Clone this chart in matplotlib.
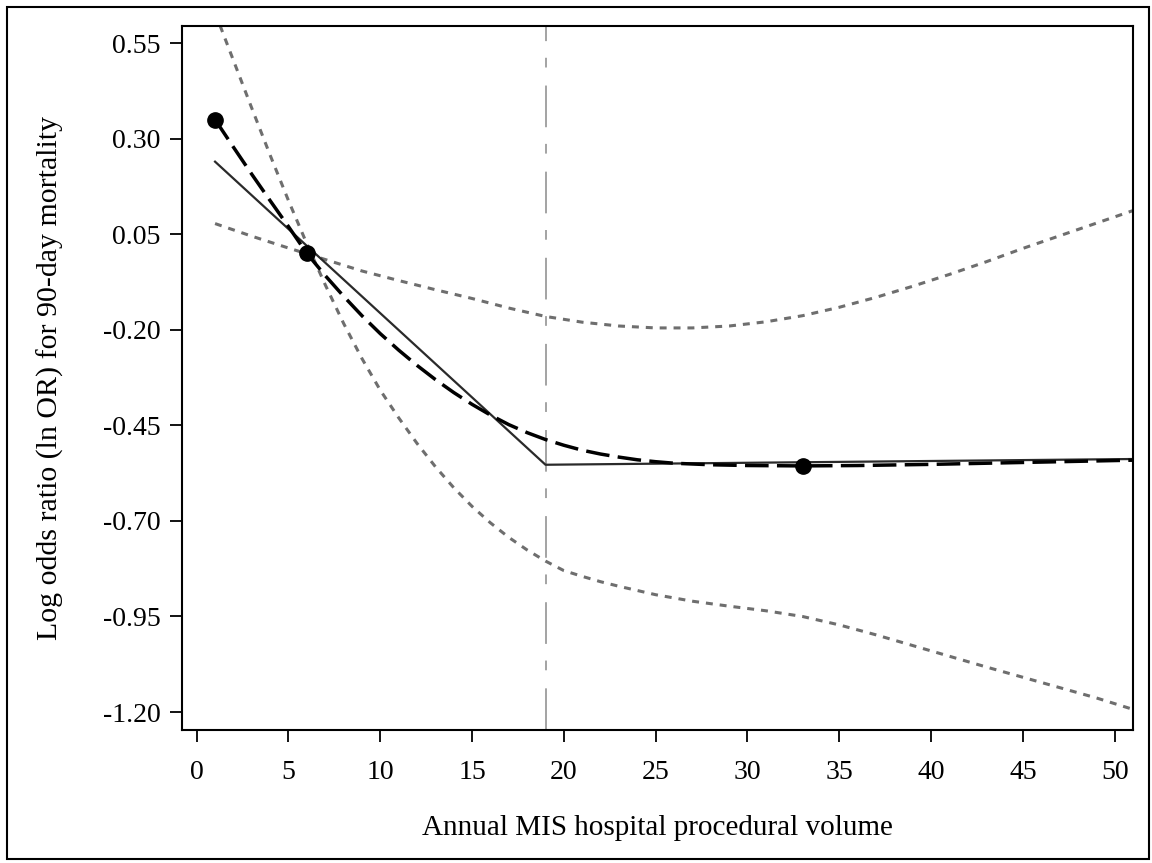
import matplotlib
matplotlib.use("Agg")
import matplotlib.pyplot as plt
from matplotlib.patches import Rectangle

plt.rcParams['font.family'] = ['Liberation Serif', 'DejaVu Serif']
plt.rcParams['lines.scale_dashes'] = False

# knot of the linear spline (vertical reference line)
knot = 19

# piecewise linear spline
lin_x = [1, 19, 51]
lin_y = [0.24, -0.553, -0.538]

# restricted cubic spline (dashed)
spl_x = [1, 2, 3, 4, 5, 6, 7, 8, 9, 10, 11, 12, 13, 14, 15, 16, 17, 18, 19,
         20, 21, 22, 23, 24, 25, 26, 28, 30, 33, 36, 40, 45, 51]
spl_y = [0.35, 0.278, 0.207, 0.138, 0.070, 0.0, -0.058, -0.112, -0.163, -0.21,
         -0.253, -0.293, -0.330, -0.364, -0.395, -0.423, -0.448, -0.469, -0.487,
         -0.502, -0.515, -0.525, -0.533, -0.540, -0.545, -0.549, -0.553, -0.555,
         -0.556, -0.555, -0.552, -0.547, -0.541]

# confidence limits (dotted)
ci_up_x = [1, 3, 5, 7, 9, 11, 13, 15, 17, 19, 21, 23, 25, 27, 29, 31, 33, 35,
           37, 39, 41, 43, 45, 47, 49, 51]
ci_up_y = [0.078, 0.045, 0.014, -0.016, -0.046, -0.071, -0.095, -0.118, -0.143,
           -0.165, -0.180, -0.190, -0.195, -0.195, -0.190, -0.179, -0.163, -0.141,
           -0.115, -0.086, -0.055, -0.022, 0.013, 0.046, 0.079, 0.112]

ci_lo_x = [1, 2, 3, 4, 5, 6, 7, 8, 9, 10, 11, 12, 13, 14, 15, 16, 17, 18, 19,
           20, 21, 22, 23, 25, 27, 29, 31, 33, 35, 37, 39, 41, 43, 45, 47, 49, 51]
ci_lo_y = [0.63, 0.505, 0.380, 0.257, 0.138, 0.025, -0.082, -0.183, -0.275,
           -0.358, -0.430, -0.497, -0.558, -0.613, -0.662, -0.705, -0.743, -0.776,
           -0.805, -0.830, -0.845, -0.859, -0.871, -0.893, -0.910, -0.923, -0.935,
           -0.950, -0.972, -0.998, -1.026, -1.054, -1.082, -1.109, -1.136, -1.163,
           -1.193]

# marked points on the spline
pt_x = [1, 6, 33]
pt_y = [0.35, 0.0, -0.555]

xticks = [0, 5, 10, 15, 20, 25, 30, 35, 40, 45, 50]
yticks = [0.55, 0.30, 0.05, -0.20, -0.45, -0.70, -0.95, -1.20]

fig = plt.figure(figsize=(11.52, 8.63), dpi=100)
ax = fig.add_axes([0.158, 0.1541, 0.8255, 0.8158])

ax.axvline(knot, color='#8a8a8a', lw=1.1, linestyle=(0, (30, 13, 7, 12)))
ax.plot(ci_up_x, ci_up_y, color='#6e6e6e', lw=2.2, linestyle=(0, (5, 5)))
ax.plot(ci_lo_x, ci_lo_y, color='#6e6e6e', lw=2.2, linestyle=(0, (5, 5)))
ax.plot(lin_x, lin_y, color='#2a2a2a', lw=1.6)
ax.plot(spl_x, spl_y, color='black', lw=2.5, linestyle=(0, (17, 6)))
ax.plot(pt_x, pt_y, 'o', color='black', ms=11)

ax.set_xlim(-0.8, 51)
ax.set_ylim(-1.247, 0.595)
ax.set_xticks(xticks)
ax.set_yticks(yticks)
ax.set_yticklabels(['%.2f' % v for v in yticks])
ax.tick_params(axis='x', direction='out', length=8.6, width=1.3, pad=13, labelsize=20)
ax.tick_params(axis='y', direction='out', length=9, width=1.3, pad=6.5, labelsize=20)
for s in ax.spines.values():
    s.set_linewidth(1.5)

ax.set_xlabel('Annual MIS hospital procedural volume', fontsize=21)
ax.xaxis.set_label_coords(0.5, -0.1207)
ax.set_ylabel('Log odds ratio (ln OR) for 90-day mortality', fontsize=21.5)
ax.yaxis.set_label_coords(-0.1246, 0.5)

fig.patches.append(Rectangle((7 / 1152, 1 - 859 / 863), 1142 / 1152, 852 / 863,
                             transform=fig.transFigure, fill=False,
                             edgecolor='black', lw=1.5))

fig.savefig('out.png', dpi=100)
